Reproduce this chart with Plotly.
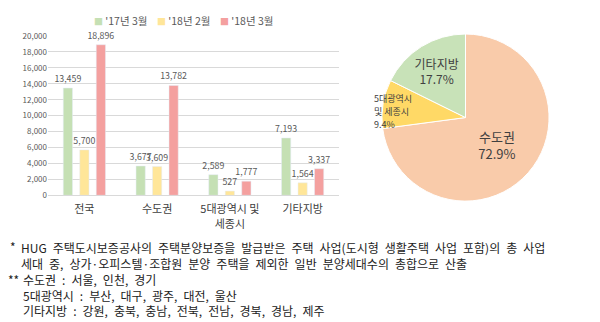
import plotly.graph_objects as go

categories = ["전국", "수도권", "5대광역시 및<br>세종시", "기타지방"]
series_names = ["'17년 3월", "'18년 2월", "'18년 3월"]
v_1703 = [13459, 3677, 2589, 7193]
v_1802 = [5700, 3609, 527, 1564]
v_1803 = [18896, 13782, 1777, 3337]
bar_colors = ["#C5E0B4", "#FFE699", "#F4A09F"]

pie_labels = ["수도권", "5대광역시<br>및 세종시", "기타지방"]
pie_values = [72.9, 9.4, 17.7]
pie_colors = ["#F9CBAA", "#FFD966", "#C8E2B8"]

y_ticks = list(range(0, 20001, 2000))

note_star = ["HUG 주택도시보증공사의 주택분양보증을 발급받은 주택 사업(도시형 생활주택 사업 포함)의 총 사업",
             "세대 중, 상가·오피스텔·조합원 분양 주택을 제외한 일반 분양세대수의 총합으로 산출"]
note_dstar = ["수도권 : 서울, 인천, 경기",
              "5대광역시 : 부산, 대구, 광주, 대전, 울산",
              "기타지방 : 강원, 충북, 충남, 전북, 전남, 경북, 경남, 제주"]

FONT = "Noto Sans CJK KR"


def wide(s):
    # the source typeface has wide word spaces
    return s.replace(" ", "\u2002")


fig = go.Figure()
for name, vals, col in zip(series_names, [v_1703, v_1802, v_1803], bar_colors):
    fig.add_trace(go.Bar(
        x=categories, y=vals, name=name, marker_color=col,
        text=[f"{v:,}" for v in vals], textposition="outside",
        constraintext="none",
        textfont=dict(size=8.8, color="#595959", family=FONT),
        cliponaxis=False, showlegend=False,
    ))

pie_text = ["%s<br>%.1f%%" % (l, v) for l, v in zip(pie_labels, pie_values)]
pie_text_shown = [pie_text[0], "", pie_text[2]]

fig.add_trace(go.Pie(
    labels=pie_labels, values=pie_values, sort=False, direction="clockwise",
    rotation=0, marker=dict(colors=pie_colors, line=dict(color="white", width=1)),
    text=pie_text_shown, textinfo="text", textposition="inside",
    insidetextorientation="horizontal",
    textfont=dict(size=[13, 8, 12], color="#404040", family=FONT),
    domain=dict(x=[379/600, 552/600], y=[(322-202)/322, (322-29)/322]),
    showlegend=False, hoverinfo="label+percent",
))
# small slice label sits across the pie edge, as in the source (one line each)
small_lines = pie_text[1].split("<br>")
for i, line in enumerate(small_lines):
    fig.add_annotation(x=372/600, y=1 - (95.5 + 13.5 * i)/322, xref="paper", yref="paper",
                       text=line, showarrow=False, xanchor="left", yanchor="middle",
                       font=dict(size=9, color="#404040", family=FONT))

# legend row
legend_x = [92, 155, 218]
for name, col, lx in zip(series_names, bar_colors, legend_x):
    fig.add_annotation(
        x=lx/600, y=1 - 15/322, xref="paper", yref="paper", showarrow=False,
        xanchor="left", yanchor="middle",
        text=f'<span style="color:{col};font-size:9px">■</span> {name}',
        font=dict(size=10.5, color="#595959", family=FONT))

fig.update_layout(
    width=600, height=322,
    margin=dict(l=0, r=0, t=0, b=0),
    paper_bgcolor="white", plot_bgcolor="white",
    barmode="group", bargap=0.32, bargroupgap=0.44,
    font=dict(family=FONT, color="#404040"),
    showlegend=False,
    xaxis=dict(domain=[48/600, 339/600], anchor="y", showline=False,
               tickfont=dict(size=11, color="#404040"), ticks="",
               showgrid=False, ticklabelstandoff=6),
    yaxis=dict(domain=[(322-196)/322, (322-31)/322], anchor="x", range=[0, 20000],
               tickvals=y_ticks, tickformat=",", showgrid=True,
               gridcolor="#D9D9D9", gridwidth=1, zeroline=True,
               zerolinecolor="#D9D9D9", zerolinewidth=1,
               tickfont=dict(size=8, color="#595959"), ticks=""),
)

NOTE_FONT = dict(size=12, color="#222222", family=FONT)
fig.add_annotation(x=8/600, y=1 - 249/322, xref="paper", yref="paper", text="*",
                   showarrow=False, xanchor="left", yanchor="middle", font=NOTE_FONT)
fig.add_annotation(x=19/600, y=1 - 239/322, xref="paper", yref="paper",
                   text="<br>".join(wide(s) for s in note_star),
                   showarrow=False, xanchor="left", yanchor="top", align="left",
                   font=NOTE_FONT)
fig.add_annotation(x=6/600, y=1 - 283/322, xref="paper", yref="paper", text="**",
                   showarrow=False, xanchor="left", yanchor="middle", font=NOTE_FONT)
fig.add_annotation(x=21/600, y=1 - 272/322, xref="paper", yref="paper",
                   text="<br>".join(wide(s) for s in note_dstar),
                   showarrow=False, xanchor="left", yanchor="top", align="left",
                   font=NOTE_FONT)

fig.write_html("out.html")
